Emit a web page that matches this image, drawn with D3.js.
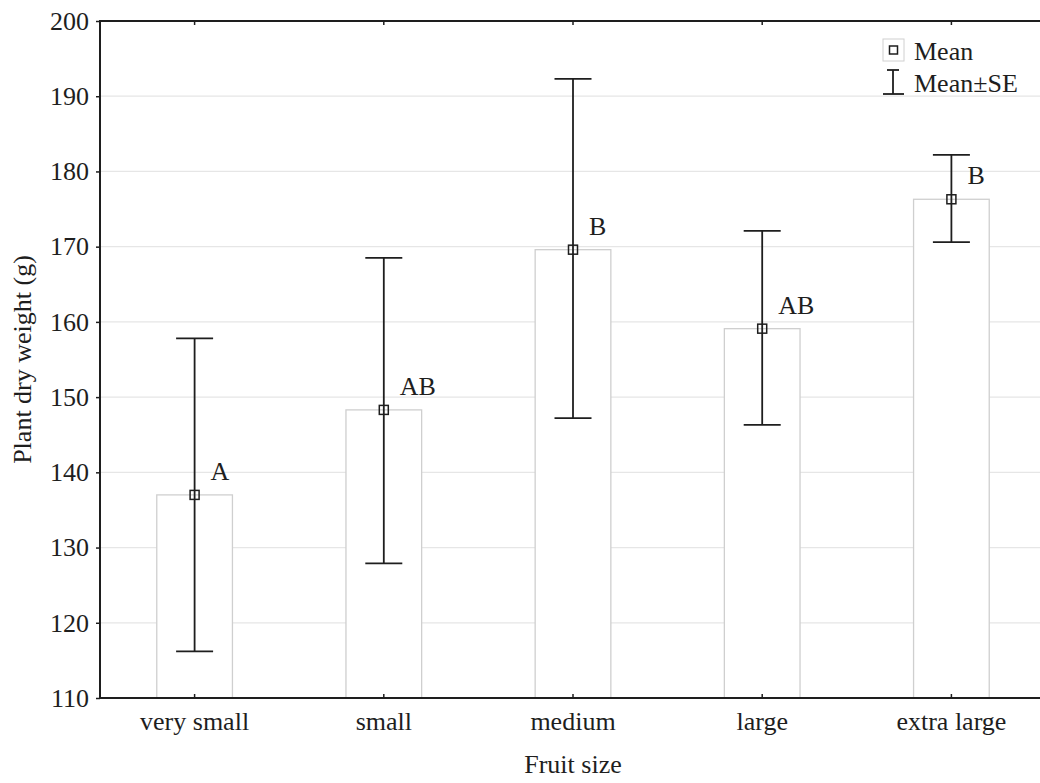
<!DOCTYPE html>
<html>
<head>
<meta charset="utf-8">
<script src="https://cdn.jsdelivr.net/npm/d3@7"></script>
<style>
  body { margin: 0; background: #fff; }
  svg { display: block; }
  text { font-family: "Liberation Serif", "Times New Roman", serif; fill: #1e1e1e; }
</style>
</head>
<body>
<script>
// data
var categories = ['very small', 'small', 'medium', 'large', 'extra large'];
var means = [137.0, 148.3, 169.6, 159.1, 176.3];
var seUpper = [157.8, 168.5, 192.3, 172.1, 182.2];
var seLower = [116.2, 127.9, 147.2, 146.3, 170.6];
var letters = ['A', 'AB', 'B', 'AB', 'B'];
var yTicks = [110, 120, 130, 140, 150, 160, 170, 180, 190, 200];

var width = 1040, height = 783;
var margin = { left: 100, top: 21, right: -6, bottom: 85 };
var plotRight = width - margin.right;
var plotBottom = height - margin.bottom;

var svg = d3.select('body').append('svg')
    .attr('width', width)
    .attr('height', height);

var x = d3.scaleBand()
    .domain(categories)
    .range([margin.left, plotRight])
    .paddingInner(0.6)
    .paddingOuter(0.3);

var y = d3.scaleLinear()
    .domain([110, 200])
    .range([plotBottom, margin.top]);

function cx(c) { return x(c) + x.bandwidth() / 2; }

var rows = categories.map(function(c, i) {
    return { cat: c, mean: means[i], hi: seUpper[i], lo: seLower[i], letter: letters[i] };
});

// grid lines
svg.append('g')
    .selectAll('line')
    .data(yTicks.slice(1, -1))
    .enter()
    .append('line')
    .attr('x1', margin.left)
    .attr('x2', plotRight)
    .attr('y1', function(d) { return y(d); })
    .attr('y2', function(d) { return y(d); })
    .attr('stroke', '#e6e6e6')
    .attr('stroke-width', 1.2);

// bars
svg.append('g')
    .selectAll('rect')
    .data(rows)
    .enter()
    .append('rect')
    .attr('x', function(d) { return x(d.cat); })
    .attr('width', x.bandwidth())
    .attr('y', function(d) { return y(d.mean); })
    .attr('height', function(d) { return y(110) - y(d.mean); })
    .attr('fill', '#fff')
    .attr('stroke', '#cfcfcf')
    .attr('stroke-width', 1.3);

// frame
svg.append('rect')
    .attr('x', margin.left)
    .attr('y', margin.top)
    .attr('width', plotRight - margin.left)
    .attr('height', plotBottom - margin.top)
    .attr('fill', 'none')
    .attr('stroke', '#1e1e1e')
    .attr('stroke-width', 2);

// y axis
var yAxis = svg.append('g')
    .attr('transform', 'translate(' + margin.left + ',0)')
    .call(d3.axisLeft(y).tickValues(yTicks).tickSize(4).tickPadding(7));
yAxis.select('.domain').remove();
yAxis.selectAll('line').attr('stroke', '#1e1e1e').attr('stroke-width', 1.5);
yAxis.selectAll('text')
    .attr('font-size', 26)
    .attr('font-family', '"Liberation Serif", serif')
    .attr('fill', '#1e1e1e');

// x axis (ticks pointing inward, bottom and top)
var xAxis = svg.append('g')
    .attr('transform', 'translate(0,' + plotBottom + ')')
    .call(d3.axisBottom(x).tickSize(-4).tickPadding(14));
xAxis.select('.domain').remove();
xAxis.selectAll('line').attr('stroke', '#1e1e1e').attr('stroke-width', 1.5);
xAxis.selectAll('text')
    .attr('font-size', 26)
    .attr('font-family', '"Liberation Serif", serif')
    .attr('fill', '#1e1e1e');

var xTop = svg.append('g')
    .attr('transform', 'translate(0,' + margin.top + ')')
    .call(d3.axisTop(x).tickSize(-4).tickFormat(''));
xTop.select('.domain').remove();
xTop.selectAll('line').attr('stroke', '#1e1e1e').attr('stroke-width', 1.5);

// error bars
var capW = 37;
var eb = svg.append('g').selectAll('g')
    .data(rows)
    .enter()
    .append('g')
    .attr('stroke', '#1e1e1e')
    .attr('stroke-width', 1.8);

eb.append('line')
    .attr('x1', function(d) { return cx(d.cat); })
    .attr('x2', function(d) { return cx(d.cat); })
    .attr('y1', function(d) { return y(d.hi); })
    .attr('y2', function(d) { return y(d.lo); });
eb.append('line')
    .attr('x1', function(d) { return cx(d.cat) - capW / 2; })
    .attr('x2', function(d) { return cx(d.cat) + capW / 2; })
    .attr('y1', function(d) { return y(d.hi); })
    .attr('y2', function(d) { return y(d.hi); });
eb.append('line')
    .attr('x1', function(d) { return cx(d.cat) - capW / 2; })
    .attr('x2', function(d) { return cx(d.cat) + capW / 2; })
    .attr('y1', function(d) { return y(d.lo); })
    .attr('y2', function(d) { return y(d.lo); });
eb.append('rect')
    .attr('x', function(d) { return cx(d.cat) - 4.5; })
    .attr('y', function(d) { return y(d.mean) - 4.5; })
    .attr('width', 9)
    .attr('height', 9)
    .attr('fill', 'none')
    .attr('stroke-width', 1.5);

// significance letters
svg.append('g').selectAll('text')
    .data(rows)
    .enter()
    .append('text')
    .attr('x', function(d) { return cx(d.cat) + 16; })
    .attr('y', function(d) { return y(d.mean) - 15; })
    .attr('font-size', 26)
    .text(function(d) { return d.letter; });

// axis titles
svg.append('text')
    .attr('transform', 'translate(31,' + (margin.top + plotBottom) / 2 + ') rotate(-90)')
    .attr('text-anchor', 'middle')
    .attr('font-size', 26)
    .text('Plant dry weight (g)');

svg.append('text')
    .attr('x', (margin.left + plotRight) / 2)
    .attr('y', 773)
    .attr('text-anchor', 'middle')
    .attr('font-size', 26)
    .text('Fruit size');

// legend
var lg = svg.append('g');
lg.append('rect')
    .attr('x', 883).attr('y', 39).attr('width', 21).attr('height', 22)
    .attr('fill', '#fff').attr('stroke', '#d0d0d0').attr('stroke-width', 1);
lg.append('rect')
    .attr('x', 889.5).attr('y', 46).attr('width', 8).attr('height', 8)
    .attr('fill', 'none').attr('stroke', '#1e1e1e').attr('stroke-width', 1.5);
lg.append('text').attr('x', 914).attr('y', 60).attr('font-size', 26).text('Mean');
lg.append('line').attr('x1', 893).attr('x2', 893).attr('y1', 70).attr('y2', 94)
    .attr('stroke', '#1e1e1e').attr('stroke-width', 1.8);
lg.append('line').attr('x1', 887).attr('x2', 899).attr('y1', 70).attr('y2', 70)
    .attr('stroke', '#1e1e1e').attr('stroke-width', 1.8);
lg.append('line').attr('x1', 883).attr('x2', 904).attr('y1', 94).attr('y2', 94)
    .attr('stroke', '#1e1e1e').attr('stroke-width', 1.8);
lg.append('text').attr('x', 914).attr('y', 92).attr('font-size', 26).text('Mean\u00b1SE');
</script>
</body>
</html>
